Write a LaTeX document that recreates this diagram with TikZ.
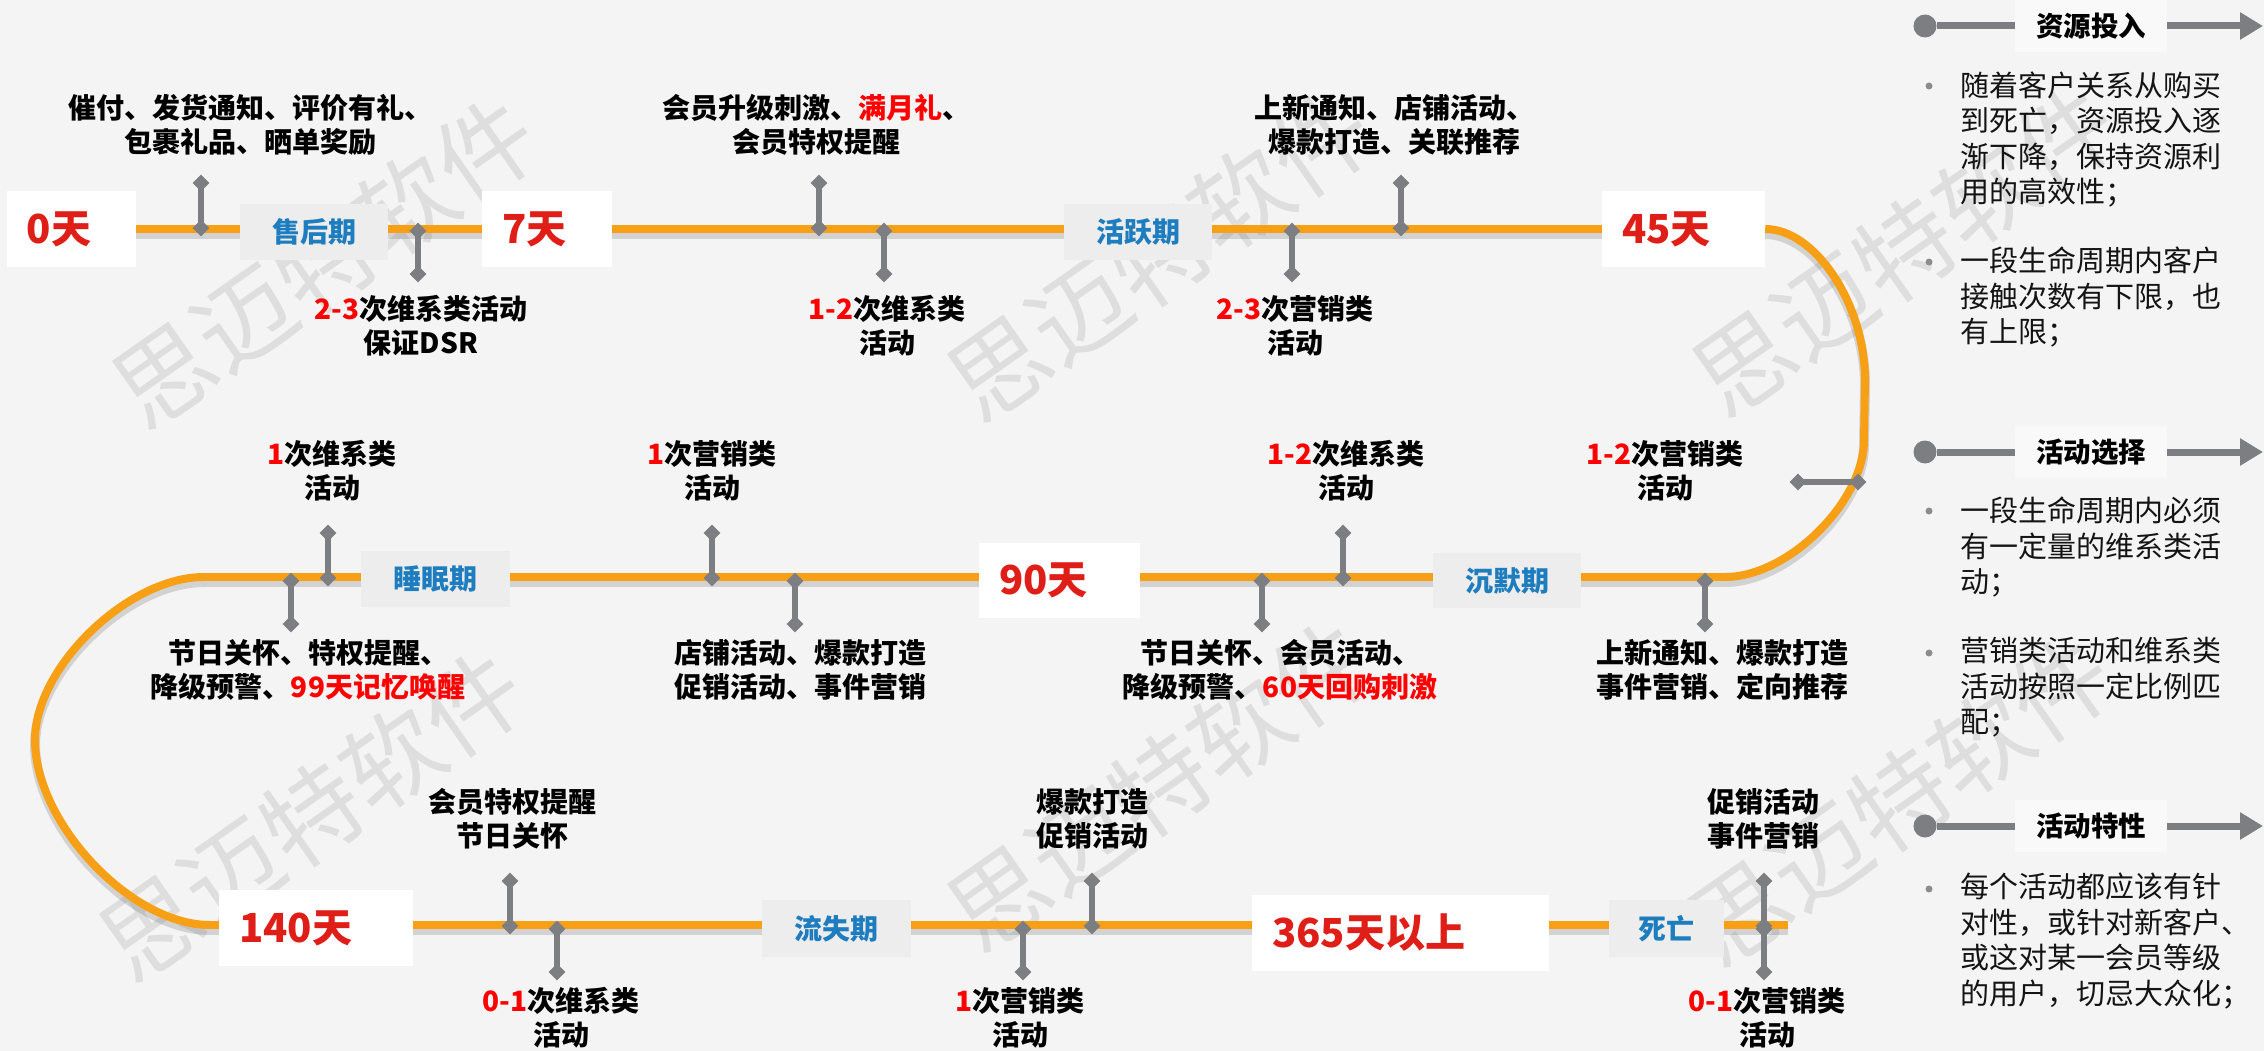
\documentclass[tikz,border=0pt]{standalone}
\usepackage{fontspec}
\setmainfont{Noto Sans CJK SC}
\usetikzlibrary{shapes.geometric,arrows.meta}
\definecolor{bgc}{RGB}{244,244,244}
\definecolor{trk}{RGB}{247,160,22}
\definecolor{dayred}{RGB}{224,30,24}
\definecolor{hl}{RGB}{255,0,0}
\definecolor{phblue}{RGB}{30,125,190}
\definecolor{phbox}{RGB}{237,237,237}
\definecolor{pinc}{RGB}{125,126,130}
\definecolor{wmc}{RGB}{222,222,222}
\definecolor{hdrbox}{RGB}{249,249,249}
\definecolor{txt}{RGB}{20,20,20}
\definecolor{shd}{RGB}{110,110,110}
\definecolor{dotc}{RGB}{140,140,140}
\pgfdeclarelayer{back}
\pgfdeclarelayer{lines}
\pgfsetlayers{back,lines,main}
\newcommand\pinv[4]{%
  \coordinate (#1a) at (#2,#3);
  \coordinate (#1b) at (#2,#4);
  \draw[pinline] (#1a) -- (#1b);
  \node[pinhead] (#1ha) at (#1a) {};
  \node[pinhead] (#1hb) at (#1b) {};}
\newcommand\pinup[3]{\pinv{#1}{#2}{#3-44}{#3+1}}
\newcommand\pindn[3]{\pinv{#1}{#2}{#3+4}{#3+47}}
\tikzset{
  pinline/.style={draw=pinc, line width=6},
  pinhead/.style={diamond, fill=pinc, inner sep=0, minimum width=17, minimum height=17},
  daybox/.style={fill=white, minimum height=75, inner xsep=20, inner ysep=0, align=left,
    font=\fontsize{40}{44}\selectfont\bfseries, text=dayred},
  phase/.style={fill=phbox, inner sep=0, font=\fontsize{28}{34}\selectfont\bfseries, text=phblue},
  lbl/.style={inner sep=0, align=center, font=\fontsize{28}{34}\selectfont\bfseries, text=black},
  track/.style={draw=trk, line width=8,
    preaction={draw=shd, draw opacity=0.25, line width=10, transform canvas={yshift=-5pt}}},
  hdr/.style={fill=hdrbox, inner sep=0, minimum width=152, minimum height=52,
    font=\fontsize{27.5}{32}\selectfont\bfseries, text=black},
  bul/.style={inner sep=0, align=left, anchor=west, font=\fontsize{29}{35.5}\selectfont, text=txt},
  hline/.style={draw=pinc, line width=7},
  hdot/.style={circle, fill=pinc, minimum size=23, inner sep=0},
  bdot/.style={circle, fill=dotc, minimum size=7, inner sep=0},
  wm/.style={inner sep=0, rotate=35, text=wmc, font=\fontsize{98}{100}\selectfont}
}
\begin{document}
\begin{tikzpicture}[x=1pt,y=-1pt]
\useasboundingbox (0,0) rectangle (2264,1051);
\begin{pgfonlayer}{back}
\fill[bgc] (0,0) rectangle (2264,1051);
\node[wm] (wm1) at (325,262) {思迈特软件};
\node[wm] (wm2) at (1160,255) {思迈特软件};
\node[wm] (wm3) at (1905,250) {思迈特软件};
\node[wm] (wm4) at (312,815) {思迈特软件};
\node[wm] (wm5) at (1160,785) {思迈特软件};
\node[wm] (wm6) at (1900,800) {思迈特软件};
\end{pgfonlayer}

% day boxes
\node[daybox, text width=89] (d0) at (71.5,229) {0天};
\node[daybox, text width=90] (d7) at (547,229) {7天};
\node[daybox, text width=123] (d45) at (1683.5,229) {45天};
\node[daybox, text width=121] (d90) at (1059.5,580) {90天};
\node[daybox, text width=154, minimum height=76] (d140) at (316,928) {140天};
\node[daybox, text width=257, minimum height=76] (d365) at (1400.5,933) {365天以上};

% phase boxes
\node[phase, minimum width=148, minimum height=56] (p1) at (314,232) {售后期};
\node[phase, minimum width=148, minimum height=56] (p2) at (1138,232) {活跃期};
\node[phase, minimum width=149, minimum height=56] (p3) at (435.5,579) {睡眠期};
\node[phase, minimum width=148, minimum height=55] (p4) at (1507,580.5) {沉默期};
\node[phase, minimum width=149, minimum height=57] (p5) at (836.5,928.5) {流失期};
\node[phase, minimum width=115, minimum height=57] (p6) at (1666.5,928.5) {死亡};

% track
\coordinate (r2e) at (1725,577);
\coordinate (r2w) at (204,577);
\coordinate (r3w) at (210,925);
\coordinate (r3e) at (1788,925);
\begin{pgfonlayer}{lines}
\draw[track] (d0.center) -- (d45.center);
\draw[track] (d45.east) .. controls (1815,229) and (1865,304) .. (1865,380)
  -- (1864,440) .. controls (1864,502) and (1788,577) .. (r2e);
\draw[track] (r2e) -- (r2w);
\draw[track] (r2w) .. controls (128,577) and (35,667) .. (35,740)
  .. controls (35,823) and (131,925) .. (r3w);
\draw[track] (r3w) -- (r3e);
\end{pgfonlayer}

% pins row 1
\pinup{pa}{201}{227}
\pindn{pb}{418}{227}
\pinup{pc}{819}{227}
\pindn{pd}{884}{227}
\pindn{pe}{1292}{227}
\pinup{pf}{1401}{227}
% pin on right arc
\coordinate (hpa) at (1798,482);
\coordinate (hpb) at (1858,482);
\draw[pinline] (hpa) -- (hpb);
\node[pinhead] (hpha) at (hpa) {};
\node[pinhead] (hphb) at (hpb) {};
% pins row 2
\pindn{pg}{291}{577}
\pinup{ph}{328}{577}
\pinup{pi}{712}{577}
\pindn{pj}{795}{577}
\pindn{pk}{1262}{577}
\pinup{pl}{1343}{577}
\pindn{pm}{1705}{577}
% pins row 3
\pinup{pn}{510}{925}
\pindn{po}{557}{925}
\pindn{pp}{1023}{925}
\pinup{pq}{1092}{925}
\pinup{pr}{1764}{925}
\pindn{ps}{1764}{925}

% labels row 1
\node[lbl] (a1) at (250,125) {催付、发货通知、评价有礼、\\包裹礼品、晒单奖励};
\node[lbl] (a2) at (816,125) {会员升级刺激、\textcolor{hl}{满月礼}、\\会员特权提醒};
\node[lbl] (a3) at (1394,125) {上新通知、店铺活动、\\爆款打造、关联推荐};
\node[lbl] (b1) at (421,325.5) {\textcolor{hl}{2-3}次维系类活动\\保证DSR};
\node[lbl] (b2) at (887,325.5) {\textcolor{hl}{1-2}次维系类\\活动};
\node[lbl] (b3) at (1295,325.5) {\textcolor{hl}{2-3}次营销类\\活动};
% labels row 2
\node[lbl] (c1) at (332,470.5) {\textcolor{hl}{1}次维系类\\活动};
\node[lbl] (c2) at (712,470.5) {\textcolor{hl}{1}次营销类\\活动};
\node[lbl] (c3) at (1346,470.5) {\textcolor{hl}{1-2}次维系类\\活动};
\node[lbl] (c4) at (1665,470.5) {\textcolor{hl}{1-2}次营销类\\活动};
\node[lbl] (e1) at (308,669.5) {节日关怀、特权提醒、\\降级预警、\textcolor{hl}{99天记忆唤醒}};
\node[lbl] (e2) at (800,669.5) {店铺活动、爆款打造\\促销活动、事件营销};
\node[lbl] (e3) at (1280,669.5) {节日关怀、会员活动、\\降级预警、\textcolor{hl}{60天回购刺激}};
\node[lbl] (e4) at (1722,669.5) {上新通知、爆款打造\\事件营销、定向推荐};
% labels row 3
\node[lbl] (f1) at (512,818.5) {会员特权提醒\\节日关怀};
\node[lbl] (f2) at (1092,818.5) {爆款打造\\促销活动};
\node[lbl] (f3) at (1763,818.5) {促销活动\\事件营销};
\node[lbl] (g1) at (561,1017.5) {\textcolor{hl}{0-1}次维系类\\活动};
\node[lbl] (g2) at (1020,1017.5) {\textcolor{hl}{1}次营销类\\活动};
\node[lbl] (g3) at (1767,1017.5) {\textcolor{hl}{0-1}次营销类\\活动};

% right panel headers
\node[hdr] (h1) at (2091,26) {资源投入};
\node[hdot] (h1d) at (1925,26) {};
\coordinate (h1e) at (2263,26);
\draw[hline] (h1d) -- (h1.west);
\draw[hline, -{Triangle[length=23pt,width=26pt]}] (h1.east) -- (h1e);

\node[hdr] (h2) at (2091,452) {活动选择};
\node[hdot] (h2d) at (1925,452) {};
\coordinate (h2e) at (2263,452);
\draw[hline] (h2d) -- (h2.west);
\draw[hline, -{Triangle[length=23pt,width=26pt]}] (h2.east) -- (h2e);

\node[hdr] (h3) at (2091,826) {活动特性};
\node[hdot] (h3d) at (1925,826) {};
\coordinate (h3e) at (2263,826);
\draw[hline] (h3d) -- (h3.west);
\draw[hline, -{Triangle[length=23pt,width=26pt]}] (h3.east) -- (h3e);

% bullets
\node[bdot] (k1) at (1929,86) {};
\node[bul] (t1) at (1960,139.5) {随着客户关系从购买\\到死亡，资源投入逐\\渐下降，保持资源利\\用的高效性；};
\node[bdot] (k2) at (1929,262) {};
\node[bul] (t2) at (1960,297) {一段生命周期内客户\\接触次数有下限，也\\有上限；};
\node[bdot] (k3) at (1929,511) {};
\node[bul] (t3) at (1960,547) {一段生命周期内必须\\有一定量的维系类活\\动；};
\node[bdot] (k4) at (1929,653) {};
\node[bul] (t4) at (1960,687.5) {营销类活动和维系类\\活动按照一定比例匹\\配；};
\node[bdot] (k5) at (1929,889) {};
\node[bul] (t5) at (1960,941) {每个活动都应该有针\\对性，或针对新客户、\\或这对某一会员等级\\的用户，切忌大众化；};
\end{tikzpicture}
\end{document}
